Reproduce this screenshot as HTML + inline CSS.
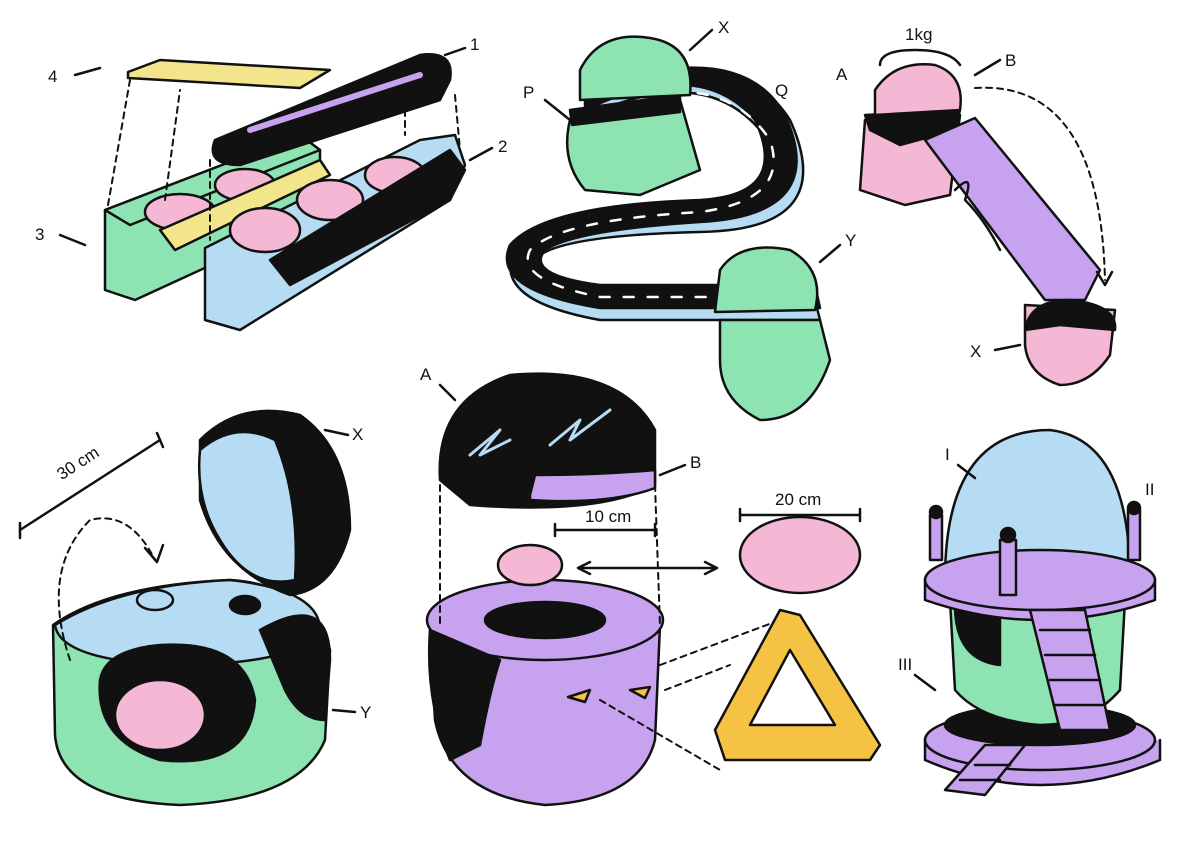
<!DOCTYPE html>
<html><head><meta charset="utf-8"><style>
html,body{margin:0;padding:0;background:#fff;}
svg{display:block}
text{font-family:"Liberation Sans",sans-serif;font-size:17px;fill:#111;stroke:none}
</style></head><body>
<svg width="1200" height="844" viewBox="0 0 1200 844" xmlns="http://www.w3.org/2000/svg" stroke="#111" stroke-width="2.5" stroke-linejoin="round" stroke-linecap="round">
<rect x="0" y="0" width="1200" height="844" fill="#fff" stroke="none"/>

<!-- TOP LEFT: boxes -->
<path d="M128,72 L160,60 L330,70 L300,88 L128,78 Z" fill="#f3e58c"/>
<path d="M105,210 L300,135 L320,150 L320,215 L135,300 L105,290 Z" fill="#8ee3b2"/>
<path d="M105,210 L300,135 L320,150 L130,225 Z" fill="#8ee3b2"/>
<ellipse cx="180" cy="212" rx="35" ry="18" fill="#f4b8d4"/>
<ellipse cx="245" cy="185" rx="30" ry="16" fill="#f4b8d4"/>
<path d="M160,230 L320,160 L330,175 L175,250 Z" fill="#f3e58c"/>
<path d="M205,248 L420,140 L455,135 L465,165 L450,200 L240,330 L205,320 Z" fill="#b5dcf3"/>
<ellipse cx="265" cy="230" rx="35" ry="22" fill="#f4b8d4"/>
<ellipse cx="330" cy="200" rx="33" ry="20" fill="#f4b8d4"/>
<ellipse cx="395" cy="175" rx="30" ry="18" fill="#f4b8d4"/>
<path d="M270,260 L450,150 L465,170 L450,200 L290,285 Z" fill="#111"/>
<path d="M215,140 L420,55 Q455,50 450,80 L440,100 L240,165 Q205,165 215,140 Z" fill="#111"/>
<path d="M250,130 L420,75" stroke="#c6a2ef" stroke-width="6" fill="none"/>
<g fill="none" stroke-dasharray="6,5" stroke-width="2">
<path d="M108,205 L130,80"/><path d="M165,200 L180,90"/><path d="M210,160 L210,240"/><path d="M455,95 L460,150"/><path d="M405,110 L405,135"/>
</g>
<text x="48" y="82">4</text><path d="M75,75 L100,68" fill="none"/>
<text x="470" y="50">1</text><path d="M445,55 L465,48" fill="none"/>
<text x="498" y="152">2</text><path d="M470,160 L492,148" fill="none"/>
<text x="35" y="240">3</text><path d="M60,235 L85,245" fill="none"/>

<!-- TOP MIDDLE: road -->
<path d="M580,120 Q700,60 760,130 Q800,200 700,210 Q550,215 515,250 Q490,300 600,320 L820,320 L815,300 L600,300 Q520,290 540,255 Q570,235 700,232 Q840,230 790,120 Q740,40 590,95 Z" fill="#b5dcf3"/>
<path d="M585,110 Q700,55 755,120 Q790,195 700,200 Q545,205 510,245 Q490,290 600,308 L820,308 L815,285 L600,285 Q525,275 545,250 Q575,230 700,222 Q830,215 785,115 Q740,35 585,90 Z" fill="#111"/>
<path d="M650,95 Q730,80 770,140 Q790,200 700,212 Q560,220 530,250 Q515,280 600,297 L800,297" fill="none" stroke="#fff" stroke-width="2.5" stroke-dasharray="10,14"/>
<path d="M570,120 L680,100 L700,170 L640,195 L585,190 Q560,160 570,120 Z" fill="#8ee3b2"/>
<path d="M570,110 L680,95 L680,112 L572,125 Z" fill="#111"/>
<path d="M580,70 Q600,30 650,38 Q695,45 690,95 L580,100 Z" fill="#8ee3b2"/>
<path d="M720,270 Q740,240 790,250 Q825,270 815,310 L715,312 Z" fill="#8ee3b2"/>
<path d="M720,320 L820,320 L830,360 Q810,420 760,420 Q720,400 720,360 Z" fill="#8ee3b2"/>
<text x="718" y="33">X</text><path d="M690,50 L712,30" fill="none"/>
<text x="523" y="98">P</text><path d="M545,100 L570,120" fill="none"/>
<text x="775" y="96">Q</text><path d="M750,110 L770,95" fill="none"/>
<text x="845" y="246">Y</text><path d="M820,262 L840,245" fill="none"/>

<!-- TOP RIGHT -->
<path d="M865,120 L960,115 L950,195 L905,205 L860,190 Z" fill="#f4b8d4"/>
<path d="M865,115 L960,110 L955,130 L900,145 L870,130 Z" fill="#111"/>
<path d="M875,90 Q895,60 935,65 Q965,75 960,110 L875,115 Z" fill="#f4b8d4"/>
<path d="M925,140 L975,118 L1100,270 L1085,300 L1045,300 Z" fill="#c6a2ef"/>
<path d="M955,190 Q975,170 965,200 Q985,220 1000,250" fill="none"/>
<path d="M1025,305 L1115,310 L1110,355 Q1090,385 1060,385 Q1028,375 1025,345 Z" fill="#f4b8d4"/>
<path d="M1025,330 Q1030,300 1070,300 Q1118,305 1115,330 L1060,325 Z" fill="#111"/>
<path d="M975,88 Q1100,80 1105,280" fill="none" stroke-dasharray="6,5" stroke-width="2"/>
<path d="M1097,272 L1105,285 L1112,272" fill="none"/>
<text x="905" y="40">1kg</text>
<path d="M880,65 Q880,50 915,50 Q950,50 960,65" fill="none"/>
<text x="836" y="80">A</text><text x="1005" y="66">B</text>
<path d="M975,75 L1000,60" fill="none"/>
<text x="970" y="357">X</text><path d="M995,350 L1020,345" fill="none"/>

<!-- BOTTOM LEFT -->
<path d="M53,625 Q110,585 230,580 Q310,585 330,650 L325,740 Q300,800 180,805 Q60,800 55,735 Z" fill="#8ee3b2"/>
<path d="M55,625 Q120,585 230,580 Q320,590 320,630 Q300,665 170,665 Q60,660 55,625 Z" fill="#b5dcf3"/>
<path d="M100,680 Q95,740 160,760 Q250,770 255,700 Q245,640 160,645 Q105,650 100,680 Z" fill="#111"/>
<ellipse cx="160" cy="715" rx="45" ry="35" fill="#f4b8d4"/>
<path d="M260,630 Q330,590 330,660 L325,720 Q300,720 285,690 Z" fill="#111"/>
<path d="M200,440 Q240,400 300,415 Q350,450 350,530 Q335,590 290,595 Q220,570 200,500 Z" fill="#111"/>
<path d="M200,450 Q235,420 275,440 Q300,500 295,580 Q250,590 220,540 Q195,500 200,450 Z" fill="#b5dcf3"/>
<ellipse cx="155" cy="600" rx="18" ry="10" fill="none"/><ellipse cx="245" cy="605" rx="15" ry="9" fill="#111"/>
<path d="M20,530 L160,440" fill="none"/><path d="M20,523 L20,538 M157,433 L163,447" fill="none"/>
<text x="60" y="475" transform="rotate(-33 70 475)">30 cm</text>
<path d="M70,660 Q40,570 90,520 Q130,510 155,560" fill="none" stroke-dasharray="6,5" stroke-width="2"/>
<path d="M145,548 L157,562 L163,545" fill="none"/>
<text x="352" y="440">X</text><path d="M325,430 L348,435" fill="none"/>
<text x="360" y="718">Y</text><path d="M333,710 L355,712" fill="none"/>

<!-- BOTTOM MIDDLE -->
<path d="M440,480 Q435,400 510,375 Q620,365 655,430 L655,485 Q600,515 470,505 Z" fill="#111"/>
<path d="M530,495 L535,475 Q600,475 655,470 L655,488 Q610,505 530,500 Z" fill="#c6a2ef"/>
<path d="M470,455 L500,430 L480,455 L510,440" fill="none" stroke="#b5dcf3" stroke-width="3"/>
<path d="M550,445 L580,420 L570,440 L610,410" fill="none" stroke="#b5dcf3" stroke-width="3"/>
<path d="M430,630 L435,720 Q450,795 545,805 Q640,800 655,740 L660,625 Z" fill="#c6a2ef"/>
<ellipse cx="545" cy="620" rx="118" ry="40" fill="#c6a2ef"/>
<ellipse cx="545" cy="620" rx="60" ry="18" fill="#111"/>
<path d="M430,630 Q425,700 450,760 L480,745 Q490,690 500,660 Z" fill="#111"/>
<path d="M568,697 L590,690 L585,702 Z M630,690 L650,687 L645,698 Z" fill="#f6c244"/>
<g fill="none" stroke-dasharray="6,5" stroke-width="2"><path d="M440,485 L440,625"/><path d="M655,485 L660,625"/><path d="M660,665 L780,620"/><path d="M665,690 L730,665"/><path d="M600,700 L720,770"/></g>
<ellipse cx="530" cy="565" rx="32" ry="20" fill="#f4b8d4"/>
<ellipse cx="800" cy="555" rx="60" ry="38" fill="#f4b8d4"/>
<path d="M580,568 L715,568" fill="none"/><path d="M590,562 L578,568 L590,574 M705,562 L717,568 L705,574" fill="none"/>
<path d="M555,530 L655,530 M555,524 L555,536 M655,524 L655,536" fill="none"/>
<text x="585" y="522" font-size="14">10 cm</text>
<path d="M740,515 L860,515 M740,509 L740,521 M860,509 L860,521" fill="none"/>
<text x="775" y="505" font-size="14">20 cm</text>
<path d="M780,610 L715,730 L725,760 L870,760 L880,745 L800,615 Z" fill="#f6c244"/>
<path d="M790,650 L750,725 L835,725 Z" fill="#fff"/>
<text x="420" y="380">A</text><path d="M440,385 L455,400" fill="none"/>
<text x="690" y="468">B</text><path d="M660,475 L685,465" fill="none"/>

<!-- BOTTOM RIGHT -->
<path d="M925,740 L925,760 Q1040,810 1160,760 L1160,740" fill="#c6a2ef"/>
<ellipse cx="1040" cy="740" rx="115" ry="30" fill="#c6a2ef"/>
<ellipse cx="1040" cy="725" rx="95" ry="20" fill="#111"/>
<path d="M950,600 L1125,600 L1120,690 Q1090,725 1040,725 Q980,720 955,690 Z" fill="#8ee3b2"/>
<path d="M955,605 Q955,660 1000,665 L1000,610 Z" fill="#111"/>
<path d="M945,580 Q945,430 1050,430 Q1130,440 1130,580 Z" fill="#b5dcf3"/>
<path d="M925,580 L925,600 Q1040,640 1155,600 L1155,580" fill="#c6a2ef"/>
<ellipse cx="1040" cy="580" rx="115" ry="30" fill="#c6a2ef"/>
<path d="M1030,610 L1085,610 L1110,730 L1060,730 Z" fill="#c6a2ef"/>
<path d="M1040,630 L1090,630 M1045,655 L1095,655 M1050,680 L1100,680 M1055,705 L1105,705" fill="none"/>
<path d="M945,790 L985,745 L1025,745 L985,795 Z" fill="#c6a2ef"/>
<path d="M960,780 L1000,780 M975,765 L1010,765" fill="none"/>
<rect x="930" y="515" width="12" height="45" fill="#c6a2ef"/>
<rect x="1000" y="540" width="16" height="55" fill="#c6a2ef"/>
<rect x="1128" y="510" width="12" height="50" fill="#c6a2ef"/>
<circle cx="936" cy="512" r="6" fill="#111"/><circle cx="1008" cy="535" r="7" fill="#111"/><circle cx="1134" cy="508" r="6" fill="#111"/>
<text x="945" y="460" font-family="Liberation Serif">I</text><path d="M958,465 L975,478" fill="none"/>
<text x="1145" y="495" font-family="Liberation Serif">II</text>
<text x="898" y="670" font-family="Liberation Serif">III</text><path d="M915,675 L935,690" fill="none"/>
</svg>
</body></html>
